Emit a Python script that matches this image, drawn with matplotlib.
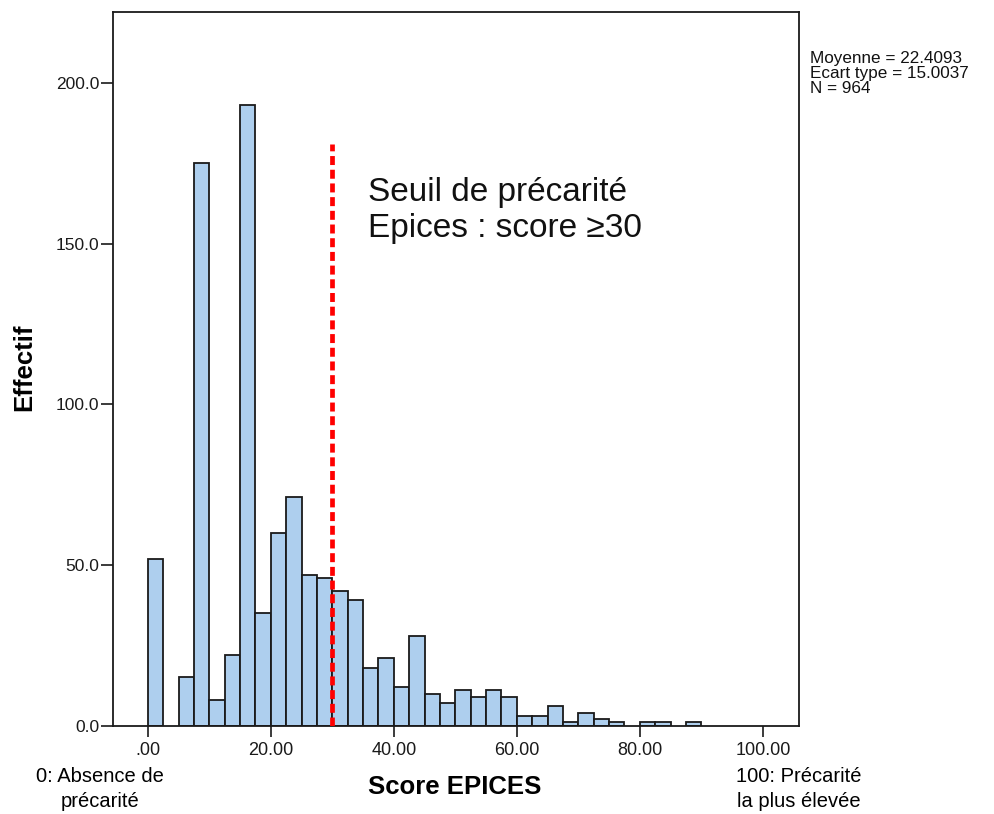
import matplotlib
matplotlib.use("Agg")
import matplotlib.pyplot as plt
import numpy as np

# Histogram of EPICES scores, bins of 2.5 points starting at 0
bin_width = 2.5
bin_start = 0.0
counts = [52, 0, 15, 175, 8, 22, 193, 35, 60, 71,
          47, 46, 42, 39, 18, 21, 12, 28, 10, 7,
          11, 9, 11, 9, 3, 3, 6, 1, 4, 2,
          1, 0, 1, 1, 0, 1]

threshold = 30
threshold_top = 181

x_ticks = [0, 20, 40, 60, 80, 100]
x_tick_labels = [".00", "20.00", "40.00", "60.00", "80.00", "100.00"]
y_ticks = [0, 50, 100, 150, 200]
y_tick_labels = ["0.0", "50.0", "100.0", "150.0", "200.0"]

stats_lines = ["Moyenne = 22.4093", "Ecart type = 15.0037", "N = 964"]

FONT = ["Liberation Sans", "DejaVu Sans"]
plt.rcParams["font.family"] = FONT

W, H = 994, 814
fig = plt.figure(figsize=(W / 100, H / 100), dpi=100)
fig.patch.set_facecolor("white")


def fx(px):
    return px / W


def fy(py):
    return 1 - py / H


left, right, top, bottom = 112.5, 798.5, 11.5, 725.7
ax = fig.add_axes([fx(left), fy(bottom), fx(right - left), (bottom - top) / H])

counts_arr = np.array(counts, dtype=float)
lefts = bin_start + np.arange(len(counts_arr)) * bin_width
mask = counts_arr > 0
ax.bar(lefts[mask], counts_arr[mask], width=bin_width, align="edge",
       color="#aecfee", edgecolor="#1a1a1a", linewidth=1.3, zorder=2)

ax.vlines(threshold, 0, threshold_top, colors="#ff0000", linewidth=3.4,
          linestyles=(0, (1.9, 1.0)), zorder=3)

ax.set_xlim(-5.75, 105.8)
ax.set_ylim(0, 222.2)

ax.set_xticks(x_ticks)
ax.set_xticklabels(x_tick_labels)
ax.set_yticks(y_ticks)
ax.set_yticklabels(y_tick_labels)
ax.tick_params(axis="x", direction="out", length=8, width=1.2, pad=4,
               labelsize=13, colors="#1a1a1a")
ax.tick_params(axis="y", direction="out", length=8.5, width=1.2, pad=1,
               labelsize=12.5, colors="#1a1a1a")
for s in ax.spines.values():
    s.set_linewidth(1.3)
    s.set_color("#1a1a1a")

# Threshold annotation (anchored on the baseline of its last line)
fig.text(fx(368), fy(237), "Seuil de précarité\nEpices : score \u226530",
         fontsize=24, family=FONT, ha="left", va="baseline",
         linespacing=1.2, color="#111111")

# Summary statistics
fig.text(fx(810), fy(51), "\n".join(stats_lines), fontsize=12.3, family=FONT,
         ha="left", va="top", linespacing=0.98, color="#111111")

# Axis titles
fig.text(fx(24), fy(367), "Effectif", fontsize=18.5, fontweight="bold",
         rotation=90, ha="center", va="center", family=FONT)
fig.text(fx(455), fy(787), "Score EPICES", fontsize=18.5, fontweight="bold",
         ha="center", va="center", family=FONT)

# Scale end descriptions
fig.text(fx(100), fy(789), "0: Absence de\nprécarité", fontsize=14.5,
         ha="center", va="center", linespacing=1.38, family=FONT)
fig.text(fx(799), fy(789), "100: Précarité\nla plus élevée", fontsize=14.5,
         ha="center", va="center", linespacing=1.38, family=FONT)

fig.savefig("out.png", dpi=100)
